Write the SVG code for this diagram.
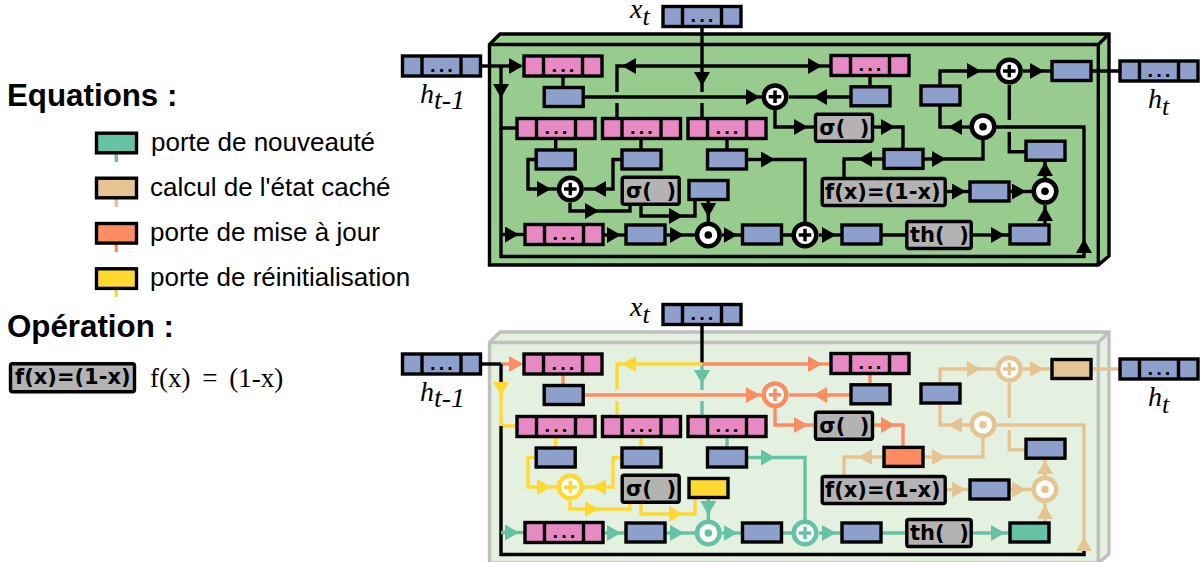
<svg xmlns="http://www.w3.org/2000/svg" width="1203" height="562" viewBox="0 0 1203 562">
<style>
.c{fill:none;stroke-width:3.4;stroke-linejoin:miter}
.k{stroke:#000}.g{stroke:#66c2a5}.t{stroke:#e5c494}.o{stroke:#fc8d62}.y{stroke:#ffd92f}
.ka{stroke:#000;marker-end:url(#ak)}.ga{stroke:#66c2a5;marker-end:url(#ag)}.ta{stroke:#e5c494;marker-end:url(#at)}.oa{stroke:#fc8d62;marker-end:url(#ao)}.ya{stroke:#ffd92f;marker-end:url(#ay)}
.n{stroke:#000;stroke-width:3.4}
.bl{fill:#8da0cb}.pk{fill:#e78ac3}.gf{fill:#66c2a5}.tf{fill:#e5c494}.of{fill:#fc8d62}.yf{fill:#ffd92f}.gr{fill:#b3b3b3}
.d{font:bold 16px "DejaVu Sans",sans-serif;letter-spacing:2.5px;text-anchor:middle;fill:#000}
.f{font:bold 21px "DejaVu Sans",sans-serif;fill:#000}
.l{font:26px "Liberation Sans",Arial,sans-serif;fill:#000}
.h{font:bold 31.3px "Liberation Sans",Arial,sans-serif;fill:#000}
.m{font:italic 28px "Liberation Serif","Times New Roman",serif;fill:#000}
.m2{font:italic 26px "Liberation Serif","Times New Roman",serif;fill:#000}
.ci{fill:#fff;stroke-width:4.5}
.sg{fill:none;stroke-width:3.5}
</style>
<defs>
<marker id="ak" markerUnits="userSpaceOnUse" markerWidth="14" markerHeight="16" refX="12" refY="8" orient="auto"><path d="M0 0L14 8L0 16Z" fill="#000"/></marker>
<marker id="ag" markerUnits="userSpaceOnUse" markerWidth="14" markerHeight="16" refX="12" refY="8" orient="auto"><path d="M0 0L14 8L0 16Z" fill="#66c2a5"/></marker>
<marker id="at" markerUnits="userSpaceOnUse" markerWidth="14" markerHeight="16" refX="12" refY="8" orient="auto"><path d="M0 0L14 8L0 16Z" fill="#e5c494"/></marker>
<marker id="ao" markerUnits="userSpaceOnUse" markerWidth="14" markerHeight="16" refX="12" refY="8" orient="auto"><path d="M0 0L14 8L0 16Z" fill="#fc8d62"/></marker>
<marker id="ay" markerUnits="userSpaceOnUse" markerWidth="14" markerHeight="16" refX="12" refY="8" orient="auto"><path d="M0 0L14 8L0 16Z" fill="#ffd92f"/></marker>
<g id="tb"><rect class="n bl" width="78" height="20"/><path class="n" d="M19.5 0V20M58.5 0V20"/></g>
<g id="tp"><rect class="n pk" width="78" height="20"/><path class="n" d="M19.5 0V20M58.5 0V20"/></g>
<path id="plus" d="M-6.3 0H6.3M0 -6.3V6.3"/>
</defs>

<g id="legend">
<g id="leg-nouveaute"><path class="c g" d="M116.3 153V162"/><rect class="n gf" x="96.5" y="133.2" width="40" height="19.6"/><text class="l" x="151" y="151">porte de nouveauté</text></g>
<g id="leg-cache"><path class="c t" d="M116.3 198V207"/><rect class="n tf" x="96.5" y="178.2" width="40" height="19.6"/><text class="l" x="150" y="196">calcul de l'état caché</text></g>
<g id="leg-maj"><path class="c o" d="M116.3 243V252"/><rect class="n of" x="96.5" y="223.5" width="40" height="19.6"/><text class="l" x="150" y="241">porte de mise à jour</text></g>
<g id="leg-reinit"><path class="c y" d="M116.3 288V297"/><rect class="n yf" x="96.5" y="268.8" width="40" height="19.6"/><text class="l" x="150" y="286">porte de réinitialisation</text></g>
<text class="h" x="7" y="106">Equations :</text>
<text class="h" x="7" y="337">Opération :</text>
<g id="leg-fx"><rect class="n gr" x="10.5" y="363.8" width="124" height="28" rx="2"/><text class="f" x="15" y="384">f(x)=(1-x)</text></g>
<text x="150" y="387" style="font:27px 'Liberation Serif',serif;word-spacing:5px;fill:#000">f(x) = (1-x)</text>
</g>

<g id="top">
<path d="M489.5 44.5L500 34H1109V256L1098.3 265H489.5Z" fill="#98cc8f" stroke="#000" stroke-width="3.4"/>
<path d="M489.5 44.5H1098.3V265M1098.3 44.5L1109 34" fill="none" stroke="#000" stroke-width="3.4"/>
<g id="top-connectors" class="c">
<path class="k" d="M481 66H501"/><path class="ka" d="M501 66H521"/>
<path class="k" d="M501 66V86"/><path class="ka" d="M501 86V96"/><path class="k" d="M501 96V128H516"/><path class="k" d="M501 128V256.5H1084V251"/>
<path class="k" d="M702 28V66"/><path class="ka" d="M702 66V84"/><path class="k" d="M702 84V92M702 103V118"/>
<path class="ka" d="M702 66H624"/><path class="k" d="M624 66H617V92M617 103V118"/>
<path class="ka" d="M702 66H820"/><path class="k" d="M820 66H830"/>
<path class="k" d="M563 77V87M870 76V87"/>
<path class="ka" d="M585 97H758"/><path class="k" d="M758 97H762"/>
<path class="ka" d="M850 97H815"/><path class="k" d="M815 97H789"/>
<path class="ka" d="M775 110V127H806"/><path class="k" d="M806 127H815"/>
<path class="ka" d="M874 127H893"/><path class="k" d="M893 127H903V149"/>
<path class="ka" d="M884 159H860"/><path class="k" d="M860 159H844V178"/>
<path class="ka" d="M924 159H944"/><path class="k" d="M944 159H983V140"/>
<path class="ka" d="M970 127H950"/><path class="k" d="M950 127H940V106"/>
<path class="ka" d="M940 86V71H979"/><path class="k" d="M979 71H996"/>
<path class="ka" d="M1023 71H1042"/><path class="k" d="M1042 71H1052M1092 71H1120"/>
<path class="k" d="M1009.3 85V120M1009.3 132V151.7H1026"/>
<path class="k" d="M996 127H1084V241"/><path class="ka" d="M1084 251V241"/>
<path class="ka" d="M947 191.5H964"/><path class="k" d="M964 191.5H970"/>
<path class="ka" d="M1010 191.5H1024"/><path class="k" d="M1024 191.5H1032"/>
<path class="ka" d="M1045 178V164"/><path class="k" d="M1045 164V161"/>
<path class="ka" d="M1045 224V209"/><path class="k" d="M1045 209V205"/>
<path class="ka" d="M973 235H1003"/><path class="k" d="M1003 235H1010M882 235H906"/>
<path class="ka" d="M819 235H834"/><path class="k" d="M834 235H842"/>
<path class="ka" d="M748 159.5H773"/><path class="k" d="M773 159.5H805V222M783 235H792"/>
<path class="ka" d="M722 235H735.5"/><path class="k" d="M735 235H742"/>
<path class="ka" d="M666 235H682"/><path class="k" d="M682 235H695"/>
<path class="ka" d="M604 235H619"/><path class="k" d="M619 235H626"/>
<path class="ka" d="M501 234.5H517"/><path class="k" d="M517 234.5H525"/>
<path class="ka" d="M708.3 201V215"/><path class="k" d="M708.3 215V222"/>
<path class="k" d="M555.7 139V150M641 139V150M727 139V150"/>
<path class="ka" d="M536 159.5H528V189H549"/><path class="k" d="M549 189H557"/>
<path class="ka" d="M622 159.5H613V189H594"/><path class="k" d="M594 189H584"/>
<path class="ka" d="M570 203V211H597"/><path class="k" d="M597 211H630V205"/>
<path class="ka" d="M641 205V216H681"/><path class="k" d="M681 216H695V201"/>
</g>
<g id="t-xt" transform="translate(663 6.5)"><use href="#tb"/><text class="d" x="40.2" y="15.8">...</text></g>
<g id="t-ht1" transform="translate(402.5 56)"><use href="#tb"/><text class="d" x="40.2" y="15.8">...</text></g>
<g id="t-ht" transform="translate(1120 61)"><use href="#tb"/><text class="d" x="40.2" y="15.8">...</text></g>
<g id="t-p1" transform="translate(524 56)"><use href="#tp"/><text class="d" x="40.2" y="15.8">...</text></g>
<g id="t-p2" transform="translate(831 55.5)"><use href="#tp"/><text class="d" x="40.2" y="15.8">...</text></g>
<g id="t-p3" transform="translate(517 118.5)"><use href="#tp"/><text class="d" x="40.2" y="15.8">...</text></g>
<g id="t-p4" transform="translate(602.5 118.5)"><use href="#tp"/><text class="d" x="40.2" y="15.8">...</text></g>
<g id="t-p5" transform="translate(688 118.5)"><use href="#tp"/><text class="d" x="40.2" y="15.8">...</text></g>
<g id="t-p6" transform="translate(525 224.5)"><use href="#tp"/><text class="d" x="40.2" y="15.8">...</text></g>
<g id="t-b1"><rect class="n bl" x="544.2" y="87.5" width="39" height="19"/></g>
<g id="t-b2"><rect class="n bl" x="851" y="86.8" width="39" height="19"/></g>
<g id="t-b3"><rect class="n bl" x="536.2" y="150" width="39" height="19"/></g>
<g id="t-b4"><rect class="n bl" x="622" y="150" width="39" height="19"/></g>
<g id="t-b5"><rect class="n bl" x="707.5" y="150" width="39" height="19"/></g>
<g id="t-b6"><rect class="n bl" x="689" y="180.5" width="39" height="19"/></g>
<g id="t-b7"><rect class="n bl" x="626" y="225" width="39" height="19"/></g>
<g id="t-b8"><rect class="n bl" x="742.5" y="225" width="39" height="19"/></g>
<g id="t-b9"><rect class="n bl" x="842" y="225" width="39" height="19"/></g>
<g id="t-b10"><rect class="n bl" x="1010" y="225" width="39" height="19"/></g>
<g id="t-b11"><rect class="n bl" x="970" y="182" width="39" height="19"/></g>
<g id="t-b12"><rect class="n bl" x="1026" y="141.2" width="39" height="19"/></g>
<g id="t-b13"><rect class="n bl" x="884" y="149.4" width="39" height="19"/></g>
<g id="t-b14"><rect class="n bl" x="921" y="86" width="39" height="19"/></g>
<g id="t-b15"><rect class="n bl" x="1052" y="61.5" width="39" height="19"/></g>
<g id="t-s1"><rect class="n gr" x="622.2" y="177.2" width="57" height="27" rx="2"/><text class="f" x="626" y="198">σ(&#160;&#160;)</text></g>
<g id="t-s2"><rect class="n gr" x="815.5" y="114.2" width="57" height="27" rx="2"/><text class="f" x="819.3" y="135">σ(&#160;&#160;)</text></g>
<g id="t-fx"><rect class="n gr" x="822.2" y="178.5" width="123" height="27" rx="2"/><text class="f" x="825" y="199">f(x)=(1-x)</text></g>
<g id="t-th"><rect class="n gr" x="906.8" y="221.5" width="64.4" height="27" rx="2"/><text class="f" x="910" y="242">th(&#160;&#160;)</text></g>
<g id="t-c1" transform="translate(775 96.7)"><circle class="ci k" r="11.3"/><use href="#plus" class="sg k"/></g>
<g id="t-c2" transform="translate(570.3 189)"><circle class="ci k" r="11.3"/><use href="#plus" class="sg k"/></g>
<g id="t-c3" transform="translate(708.3 235)"><circle class="ci k" r="11.3"/><circle r="3.8" fill="#000"/></g>
<g id="t-c4" transform="translate(805 235)"><circle class="ci k" r="11.3"/><use href="#plus" class="sg k"/></g>
<g id="t-c5" transform="translate(1009.3 71)"><circle class="ci k" r="11.3"/><use href="#plus" class="sg k"/></g>
<g id="t-c6" transform="translate(983 126.7)"><circle class="ci k" r="11.3"/><circle r="3.8" fill="#000"/></g>
<g id="t-c7" transform="translate(1045 191.3)"><circle class="ci k" r="11.3"/><circle r="3.8" fill="#000"/></g>
<g id="t-labels">
<text x="630" y="18"><tspan class="m">x</tspan><tspan class="m2" dy="7">t</tspan></text>
<text x="420" y="103"><tspan class="m">h</tspan><tspan class="m" dy="6">t-1</tspan></text>
<text x="1148" y="108"><tspan class="m">h</tspan><tspan class="m2" dy="7">t</tspan></text>
</g>
</g>

<g id="bottom" transform="translate(0 298)">
<path d="M489.5 44.5L500 34H1109V256L1098.3 265H489.5Z" fill="#e5f1e0" stroke="#bfbfbf" stroke-width="3.4"/>
<path d="M489.5 44.5H1098.3V265M1098.3 44.5L1109 34" fill="none" stroke="#bfbfbf" stroke-width="3.4"/>
<g id="bottom-connectors" class="c">
<path class="k" d="M481 66H501"/><path class="oa" d="M501 66H521"/>
<path class="k" d="M501 66V86"/><path class="ya" d="M501 86V96"/><path class="y" d="M501 96V128H516"/><path class="k" d="M501 128V256.5H1084V251"/>
<path class="k" d="M702 28V66"/><path class="ga" d="M702 66V84"/><path class="g" d="M702 84V92M702 103V118"/>
<path class="ya" d="M702 66H624"/><path class="y" d="M624 66H617V92M617 103V118"/>
<path class="oa" d="M702 66H820"/><path class="o" d="M820 66H830"/>
<path class="o" d="M563 77V87M870 76V87"/>
<path class="oa" d="M585 97H758"/><path class="o" d="M758 97H762"/>
<path class="oa" d="M850 97H815"/><path class="o" d="M815 97H789"/>
<path class="oa" d="M775 110V127H806"/><path class="o" d="M806 127H815"/>
<path class="oa" d="M874 127H893"/><path class="o" d="M893 127H903V149"/>
<path class="ta" d="M884 159H860"/><path class="t" d="M860 159H844V178"/>
<path class="ta" d="M924 159H944"/><path class="t" d="M944 159H983V140"/>
<path class="ta" d="M970 127H950"/><path class="t" d="M950 127H940V106"/>
<path class="ta" d="M940 86V71H979"/><path class="t" d="M979 71H996"/>
<path class="ta" d="M1023 71H1042"/><path class="t" d="M1042 71H1052M1092 71H1120"/>
<path class="t" d="M1009.3 85V120M1009.3 132V151.7H1026"/>
<path class="t" d="M996 127H1084V241"/><path class="ta" d="M1084 251V241"/>
<path class="ta" d="M947 191.5H964"/><path class="t" d="M964 191.5H970"/>
<path class="ta" d="M1010 191.5H1024"/><path class="t" d="M1024 191.5H1032"/>
<path class="ta" d="M1045 178V164"/><path class="t" d="M1045 164V161"/>
<path class="ta" d="M1045 224V209"/><path class="t" d="M1045 209V205"/>
<path class="ga" d="M973 235H1003"/><path class="g" d="M1003 235H1010M882 235H906"/>
<path class="ga" d="M819 235H834"/><path class="g" d="M834 235H842"/>
<path class="ga" d="M748 159.5H773"/><path class="g" d="M773 159.5H805V222M783 235H792"/>
<path class="ga" d="M722 235H735.5"/><path class="g" d="M735 235H742"/>
<path class="ga" d="M666 235H682"/><path class="g" d="M682 235H695"/>
<path class="ga" d="M604 235H619"/><path class="g" d="M619 235H626"/>
<path class="ga" d="M501 234.5H517"/><path class="g" d="M517 234.5H525"/>
<path class="ga" d="M708.3 201V215"/><path class="g" d="M708.3 215V222"/>
<path class="y" d="M555.7 139V150M641 139V150"/><path class="g" d="M727 139V150"/>
<path class="ya" d="M536 159.5H528V189H549"/><path class="y" d="M549 189H557"/>
<path class="ya" d="M622 159.5H613V189H594"/><path class="y" d="M594 189H584"/>
<path class="ya" d="M570 203V211H597"/><path class="y" d="M597 211H630V205"/>
<path class="ya" d="M641 205V216H681"/><path class="y" d="M681 216H695V201"/>
</g>
<g id="b-xt" transform="translate(663 6.5)"><use href="#tb"/><text class="d" x="40.2" y="15.8">...</text></g>
<g id="b-ht1" transform="translate(402.5 56)"><use href="#tb"/><text class="d" x="40.2" y="15.8">...</text></g>
<g id="b-ht" transform="translate(1120 61)"><use href="#tb"/><text class="d" x="40.2" y="15.8">...</text></g>
<g id="b-p1" transform="translate(524 56)"><use href="#tp"/><text class="d" x="40.2" y="15.8">...</text></g>
<g id="b-p2" transform="translate(831 55.5)"><use href="#tp"/><text class="d" x="40.2" y="15.8">...</text></g>
<g id="b-p3" transform="translate(517 118.5)"><use href="#tp"/><text class="d" x="40.2" y="15.8">...</text></g>
<g id="b-p4" transform="translate(602.5 118.5)"><use href="#tp"/><text class="d" x="40.2" y="15.8">...</text></g>
<g id="b-p5" transform="translate(688 118.5)"><use href="#tp"/><text class="d" x="40.2" y="15.8">...</text></g>
<g id="b-p6" transform="translate(525 224.5)"><use href="#tp"/><text class="d" x="40.2" y="15.8">...</text></g>
<g id="b-b1"><rect class="n bl" x="544.2" y="87.5" width="39" height="19"/></g>
<g id="b-b2"><rect class="n bl" x="851" y="86.8" width="39" height="19"/></g>
<g id="b-b3"><rect class="n bl" x="536.2" y="150" width="39" height="19"/></g>
<g id="b-b4"><rect class="n bl" x="622" y="150" width="39" height="19"/></g>
<g id="b-b5"><rect class="n bl" x="707.5" y="150" width="39" height="19"/></g>
<g id="b-b6"><rect class="n yf" x="689" y="180.5" width="39" height="19"/></g>
<g id="b-b7"><rect class="n bl" x="626" y="225" width="39" height="19"/></g>
<g id="b-b8"><rect class="n bl" x="742.5" y="225" width="39" height="19"/></g>
<g id="b-b9"><rect class="n bl" x="842" y="225" width="39" height="19"/></g>
<g id="b-b10"><rect class="n gf" x="1010" y="225" width="39" height="19"/></g>
<g id="b-b11"><rect class="n bl" x="970" y="182" width="39" height="19"/></g>
<g id="b-b12"><rect class="n bl" x="1026" y="141.2" width="39" height="19"/></g>
<g id="b-b13"><rect class="n of" x="884" y="149.4" width="39" height="19"/></g>
<g id="b-b14"><rect class="n bl" x="921" y="86" width="39" height="19"/></g>
<g id="b-b15"><rect class="n tf" x="1052" y="61.5" width="39" height="19"/></g>
<g id="b-s1"><rect class="n gr" x="622.2" y="177.2" width="57" height="27" rx="2"/><text class="f" x="626" y="198">σ(&#160;&#160;)</text></g>
<g id="b-s2"><rect class="n gr" x="815.5" y="114.2" width="57" height="27" rx="2"/><text class="f" x="819.3" y="135">σ(&#160;&#160;)</text></g>
<g id="b-fx"><rect class="n gr" x="822.2" y="178.5" width="123" height="27" rx="2"/><text class="f" x="825" y="199">f(x)=(1-x)</text></g>
<g id="b-th"><rect class="n gr" x="906.8" y="221.5" width="64.4" height="27" rx="2"/><text class="f" x="910" y="242">th(&#160;&#160;)</text></g>
<g id="b-c1" transform="translate(775 96.7)"><circle class="ci o" r="11.3"/><use href="#plus" class="sg o"/></g>
<g id="b-c2" transform="translate(570.3 189)"><circle class="ci y" r="11.3"/><use href="#plus" class="sg y"/></g>
<g id="b-c3" transform="translate(708.3 235)"><circle class="ci g" r="11.3"/><circle r="3.8" fill="#66c2a5"/></g>
<g id="b-c4" transform="translate(805 235)"><circle class="ci g" r="11.3"/><use href="#plus" class="sg g"/></g>
<g id="b-c5" transform="translate(1009.3 71)"><circle class="ci t" r="11.3"/><use href="#plus" class="sg t"/></g>
<g id="b-c6" transform="translate(983 126.7)"><circle class="ci t" r="11.3"/><circle r="3.8" fill="#e5c494"/></g>
<g id="b-c7" transform="translate(1045 191.3)"><circle class="ci t" r="11.3"/><circle r="3.8" fill="#e5c494"/></g>
<g id="b-labels">
<text x="630" y="18"><tspan class="m">x</tspan><tspan class="m2" dy="7">t</tspan></text>
<text x="420" y="103"><tspan class="m">h</tspan><tspan class="m" dy="6">t-1</tspan></text>
<text x="1148" y="108"><tspan class="m">h</tspan><tspan class="m2" dy="7">t</tspan></text>
</g>
</g>
</svg>
